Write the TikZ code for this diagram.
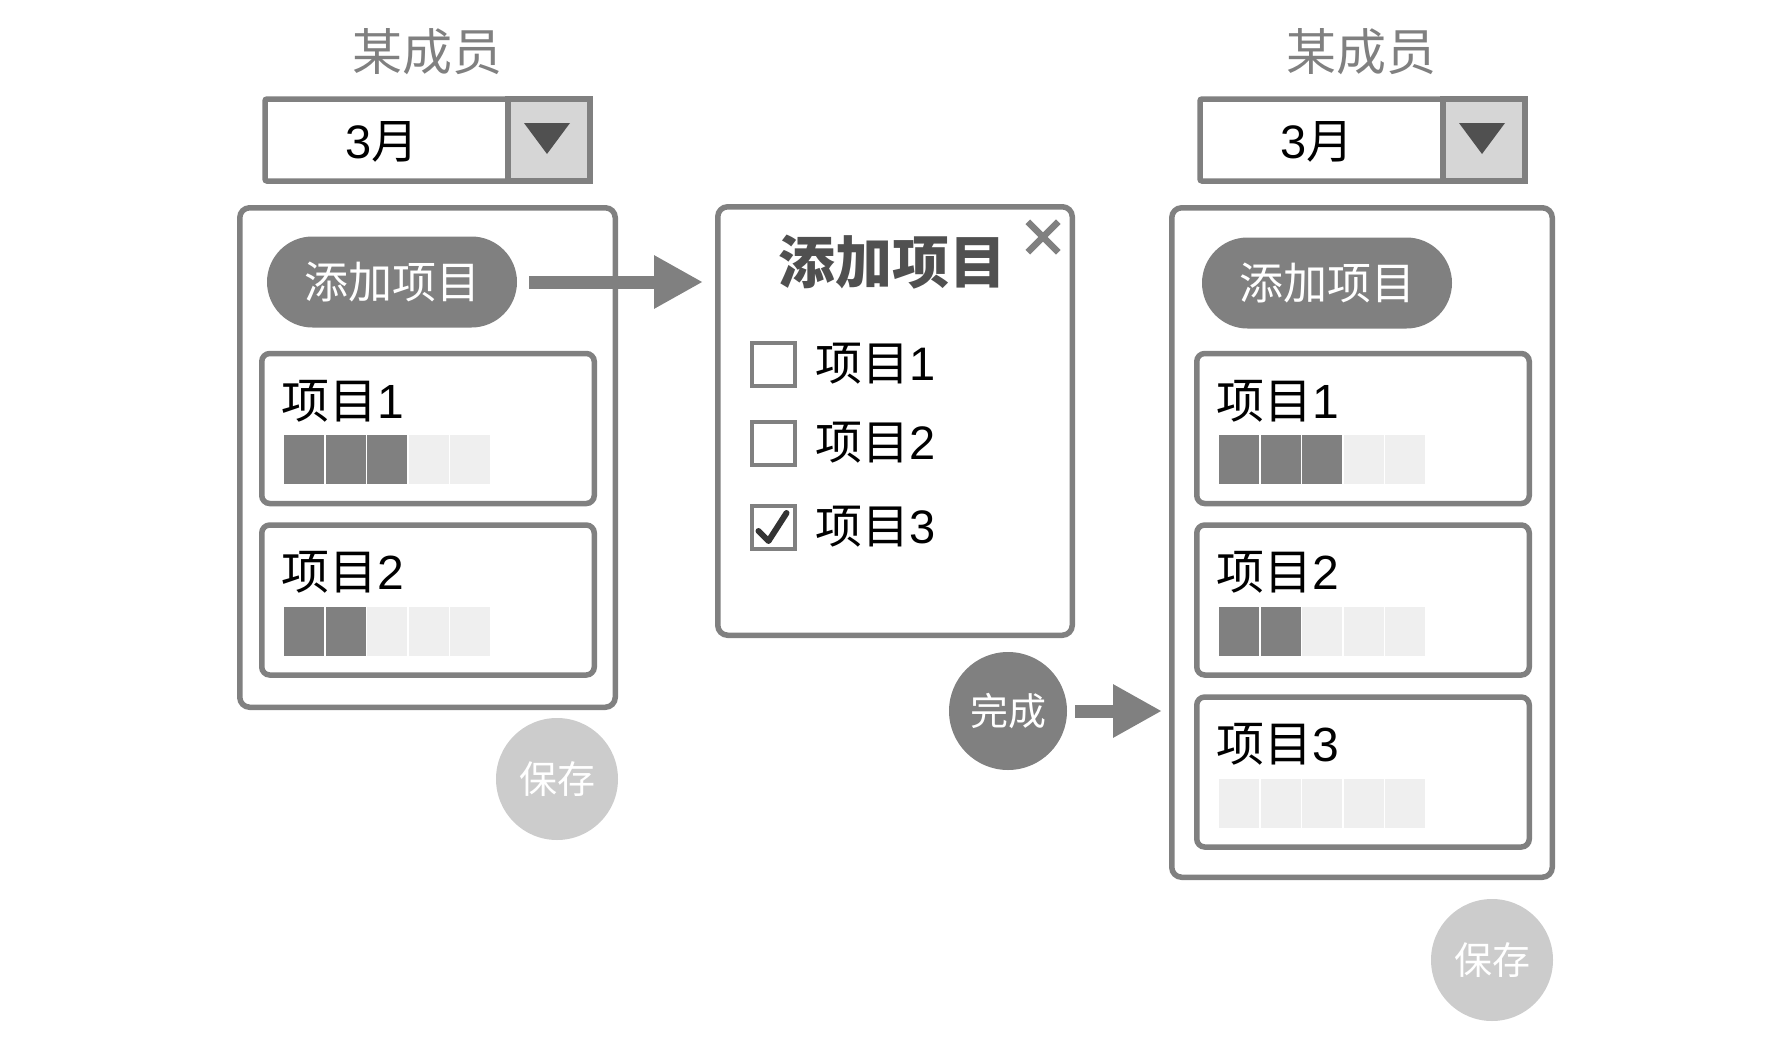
\documentclass[tikz,border=0pt]{standalone}
\usepackage{fontspec}
\setmainfont{Liberation Sans}
\newfontfamily\cjk{Noto Sans CJK SC}
\usetikzlibrary{arrows.meta,positioning,calc,shapes.misc}

\definecolor{linegray}{HTML}{808080}
\definecolor{titlegray}{HTML}{505050}
\definecolor{btngray}{HTML}{D6D6D6}
\definecolor{savegray}{HTML}{CCCCCC}
\definecolor{cellempty}{HTML}{EFEFEF}
\definecolor{checkgray}{HTML}{333333}

\begin{document}
\begin{tikzpicture}[x=1pt, y=-1pt,
    member/.style={text=linegray, inner sep=0pt, font=\cjk\fontsize{50}{50}\selectfont},
    dropbox/.style={draw=linegray, line width=5.5pt, rounded corners=2pt, minimum width=325pt, minimum height=82pt, inner sep=0pt},
    dropbtn/.style={draw=linegray, fill=btngray, line width=5.5pt, minimum width=82pt, minimum height=82pt, inner sep=0pt, anchor=east},
    month/.style={inner sep=0pt, font=\fontsize{47}{47}\selectfont},
    panel/.style={draw=linegray, line width=5.5pt, rounded corners=10pt, inner sep=0pt},
    addbtn/.style={rounded rectangle, fill=linegray, text=white, minimum width=250pt, minimum height=91pt, inner sep=0pt, font=\cjk\fontsize{44}{44}\selectfont},
    card/.style={draw=linegray, line width=5.5pt, rounded corners=8pt, minimum width=332.5pt, minimum height=150pt, inner sep=0pt},
    cardtext/.style={anchor=west, inner sep=0pt, font=\fontsize{48}{48}\selectfont},
    barcell/.style={minimum width=40pt, minimum height=49pt, inner sep=0pt},
    savebtn/.style={circle, fill=savegray, text=white, minimum size=122pt, inner sep=0pt, font=\cjk\fontsize{38}{38}\selectfont},
    donebtn/.style={circle, fill=linegray, text=white, minimum size=118pt, inner sep=0pt, font=\cjk\fontsize{38}{38}\selectfont},
    checkbox/.style={draw=linegray, line width=4pt, minimum size=43pt, inner sep=0pt},
    flowarrow/.style={draw=linegray, line width=13pt, -{Triangle[length=49pt, width=50pt]}}
  ]
  \useasboundingbox (0,0) rectangle (1792,1044);

  % member headers and month pickers
  \node[member] (memberL) at (427,52) {某成员};
  \node[member] (memberR) at (1361,52) {某成员};
  \foreach \dd/\x in {ddL/427.5, ddR/1362.5} {
    \node[dropbox] (\dd) at (\x,140) {};
    \node[dropbtn] (\dd-btn) at (\dd.east) {};
    \fill[titlegray] ([shift={(-25,-17)}]\dd-btn.center) -- ++(46,0) -- ++(-23,31) -- cycle;
    \node[month] (\dd-month) at ($(\dd.west)!0.5!(\dd-btn.west)+(-2,2)$) {3{\cjk 月}};
  }

  % panels
  \node[panel, minimum width=375.5pt, minimum height=499.5pt] (panelL) at (427.5,457.5) {};
  \node[panel, minimum width=380.5pt, minimum height=669.5pt] (panelR) at (1362,542.5) {};
  \node[panel, minimum width=354.5pt, minimum height=428.5pt] (dlg) at (895,421) {};

  \node[addbtn] (addL) at (392,282) {添加项目};
  \node[addbtn] (addR) at (1327,283) {添加项目};

  % item cards with progress bars
  \foreach \cname/\cx/\cy/\cnum/\cdone in {cardL1/428/428.5/1/3, cardL2/428/600/2/2,
      cardR1/1363/428.5/1/3, cardR2/1363/600/2/2, cardR3/1363/772/3/0} {
    \node[card] (\cname) at (\cx,\cy) {};
    \node[cardtext] (\cname-label) at ([shift={(22,-27.5)}]\cname.west) {{\cjk 项目}\cnum};
    \foreach \k in {1,...,5} {
      \ifnum\k>\cdone \def\cellcol{cellempty}\else \def\cellcol{linegray}\fi
      \node[barcell, fill=\cellcol] (\cname-bar\k) at ([shift={({45+(\k-1)*41.5},31)}]\cname.west) {};
    }
  }

  % dialog
  \node[inner sep=0pt, text=titlegray, font=\cjk\bfseries\fontsize{57}{57}\selectfont] (dlg-title) at (892,262) {添加项目};
  \node[cross out, draw=linegray, line width=6.5pt, minimum size=24pt, inner sep=0pt] (dlg-close) at (1043,237) {};
  \foreach \i/\cy in {1/364, 2/443, 3/527} {
    \node[cardtext, font=\fontsize{47}{47}\selectfont] (chk\i-label) at (815,\cy) {{\cjk 项目}\i};
    \node[checkbox] (chk\i) at (773.5,\cy) {};
  }
  \draw[checkgray, line width=6pt, line join=round, line cap=round]
    ([shift={(-15,4)}]chk3.center) -- ([shift={(-5,14)}]chk3.center) -- ([shift={(13,-14)}]chk3.center);

  \node[donebtn] (done) at (1008,711) {完成};
  \node[savebtn] (saveL) at (557,779) {保存};
  \node[savebtn] (saveR) at (1492,960) {保存};

  \draw[flowarrow] ([xshift=12pt]addL.east) -- ([xshift=-12pt]addL.east -| dlg.west);
  \draw[flowarrow] ([xshift=8pt]done.east) -- ([xshift=-7pt]done.east -| panelR.west);
\end{tikzpicture}
\end{document}
